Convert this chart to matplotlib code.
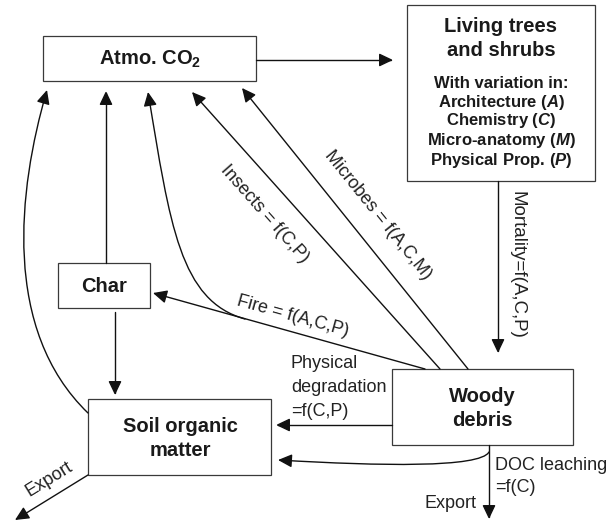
import matplotlib
matplotlib.use("Agg")
import matplotlib.pyplot as plt
from matplotlib.patches import Rectangle, FancyArrowPatch, ArrowStyle
from matplotlib.path import Path

plt.rcParams['font.family'] = ['Liberation Sans', 'DejaVu Sans']
plt.rcParams['mathtext.fontset'] = 'custom'
plt.rcParams['mathtext.rm'] = 'Liberation Sans'
plt.rcParams['mathtext.it'] = 'Liberation Sans:italic'
plt.rcParams['mathtext.bf'] = 'Liberation Sans:bold'
plt.rcParams['mathtext.bfit'] = 'Liberation Sans:bold:italic'

# ---- content ----
box_titles = {
    'atmo': ["Atmo. CO$_\\mathbf{2}$"],
    'living': ["Living trees", "and shrubs"],
    'woody': ["Woody", "debris"],
    'soil': ["Soil organic", "matter"],
    'char': ["Char"],
}
trait_lines = ["With variation in:",
               "Architecture ($\\mathbfit{A}$)",
               "Chemistry ($\\mathbfit{C}$)",
               "Micro-anatomy ($\\mathbfit{M}$)",
               "Physical Prop. ($\\mathbfit{P}$)"]
flow_labels = {
    'mortality': "Mortality=f(A,C,P)",
    'insects': "Insects = f(C,P)",
    'microbes': "Microbes = f(A,C,M)",
    'fire': "Fire = f(A,C,P)",
    'export_woody': "Export",
    'export_soil': "Export",
}
physical_lines = ["Physical", "degradation", "=f(C,P)"]
doc_lines = ["DOC leaching", "=f(C)"]

# ---- layout (pixel coordinates, y downward) ----
boxes = {
    'atmo': (43, 36, 256, 81),
    'living': (407, 5, 595, 181),
    'woody': (392, 369, 573, 445),
    'soil': (88, 399, 271, 475),
    'char': (58, 263, 150, 308),
}

fig = plt.figure(figsize=(6.13, 5.22), dpi=100)
ax = fig.add_axes([0, 0, 1, 1])
ax.set_xlim(0, 613)
ax.set_ylim(522, 0)
ax.axis('off')

for k, (x0, y0, x1, y1) in boxes.items():
    ax.add_patch(Rectangle((x0, y0), x1 - x0, y1 - y0, fill=False,
                           edgecolor='#3a3a3a', lw=0.9))

TC = '#1a1a1a'
# box titles
ax.text(150, 59, box_titles['atmo'][0], ha='center', va='center',
        fontsize=14.5, fontweight='bold', color=TC)
for txt, y in zip(box_titles['living'], [27, 50]):
    ax.text(501, y, txt, ha='center', va='center', fontsize=14.5,
            fontweight='bold', color=TC)
for txt, y in zip(trait_lines, [83, 102, 121, 141, 161]):
    ax.text(501, y, txt, ha='center', va='center', fontsize=12,
            fontweight='bold', color=TC)
for txt, y in zip(box_titles['woody'], [397, 420]):
    ax.text(482, y, txt, ha='center', va='center', fontsize=14.5,
            fontweight='bold', color=TC)
for txt, y in zip(box_titles['soil'], [426, 450]):
    ax.text(180, y, txt, ha='center', va='center', fontsize=14.5,
            fontweight='bold', color=TC)
ax.text(104, 286, box_titles['char'][0], ha='center', va='center',
        fontsize=14.5, fontweight='bold', color=TC)

style = ArrowStyle('-|>', head_length=0.42, head_width=0.2)


def arrow(verts, codes=None):
    if codes is None:
        codes = [Path.MOVETO] + [Path.LINETO] * (len(verts) - 1)
    p = FancyArrowPatch(path=Path(verts, codes), arrowstyle=style,
                        mutation_scale=20, lw=1.0, color='#111111',
                        shrinkA=0, shrinkB=0)
    ax.add_patch(p)


def curve(verts):
    codes = [Path.MOVETO, Path.CURVE4, Path.CURVE4, Path.CURVE4]
    arrow(verts, codes)


# straight arrows
arrow([(256, 60), (393, 60)])                 # atmo -> living
arrow([(498, 181), (498, 353)])               # mortality
arrow([(106, 263), (106, 91)])                # char -> atmo
arrow([(115, 312), (115, 395)])               # char -> soil
arrow([(425, 369), (153, 293)])               # fire -> char
arrow([(440, 369), (192, 92)])                # insects
arrow([(468, 369), (242, 88)])                # microbes
arrow([(392, 425), (276, 425)])               # physical degradation
arrow([(489, 445), (489, 519)])               # export (woody)
arrow([(88, 475), (15, 520)])                 # export (soil)
# curves
curve([(88, 413), (2, 330), (18, 190), (47, 90)])        # soil -> atmo
curve([(245, 319), (180, 301), (170, 225), (148, 92)])   # fire -> atmo
curve([(489, 452), (480, 468), (380, 466), (278, 460)])  # DOC -> soil

# flow labels
LC = '#222222'
ax.text(517, 265, flow_labels['mortality'], rotation=-90, ha='center',
        va='center', fontsize=13.5, color=LC, rotation_mode='anchor')
ax.text(265, 214, flow_labels['insects'], rotation=-48.5, ha='center',
        va='center', fontsize=13, color=LC, rotation_mode='anchor')
ax.text(378, 215, flow_labels['microbes'], rotation=-51.2, ha='center',
        va='center', fontsize=13, color=LC, rotation_mode='anchor')
ax.text(293, 316, flow_labels['fire'], rotation=-15.6, ha='center',
        va='center', fontsize=13, color=LC, rotation_mode='anchor')
for txt, y in zip(physical_lines, [364, 387, 411]):
    ax.text(291, y, txt, ha='left', va='center', fontsize=13, color=LC)
for txt, y in zip(doc_lines, [465, 487]):
    ax.text(495, y, txt, ha='left', va='center', fontsize=13, color=LC)
ax.text(477, 503, flow_labels['export_woody'], ha='right', va='center',
        fontsize=13, color=LC)
ax.text(49, 479, flow_labels['export_soil'], rotation=31.6, ha='center',
        va='center', fontsize=13, color=LC, rotation_mode='anchor')

fig.savefig('out.png', dpi=100)
